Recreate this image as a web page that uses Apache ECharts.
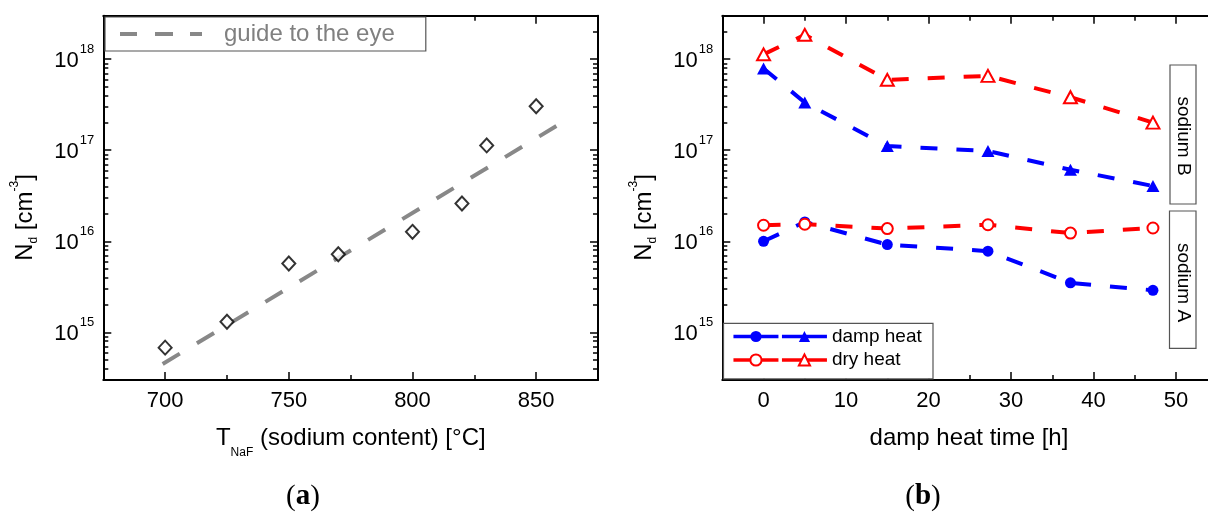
<!DOCTYPE html>
<html>
<head>
<meta charset="utf-8">
<title>Nd vs sodium / damp heat</title>
<script src="https://cdn.jsdelivr.net/npm/echarts@6/dist/echarts.min.js"></script>
<style>
  html, body { margin: 0; padding: 0; background: #fff; }
  #chart { width: 1208px; height: 515px; }
</style>
</head>
<body>
<div id="chart"></div>
<script>
// (a) donor density vs NaF source temperature
var naTemp = [700, 725, 750, 770, 800, 820, 830, 850];
var naNd = [6.8e14, 1.31e15, 5.7e15, 7.2e15, 1.27e16, 2.6e16, 1.13e17, 3.04e17];
var guideTemp = [699, 861];
var guideNd = [4.5e14, 2.05e17];

// (b) donor density vs damp heat time
var heatTime = [0, 5, 15, 27.2, 37.2, 47.2];
var dampA = [1.0e16, 1.63e16, 9.2e15, 7.8e15, 3.5e15, 2.9e15];
var dryA = [1.5e16, 1.54e16, 1.38e16, 1.52e16, 1.23e16, 1.4e16];
var dampB = [7.9e17, 3.34e17, 1.11e17, 9.8e16, 6.1e16, 4.05e16];
var dryB = [1.13e18, 1.85e18, 5.93e17, 6.55e17, 3.82e17, 2.01e17];

// ticks
var tempTicks = [700, 750, 800, 850];
var tempMinor = [725, 775, 825];
var timeTicks = [0, 10, 20, 30, 40, 50];
var timeMinor = [5, 15, 25, 35, 45];
var ndTicks = [1e15, 1e16, 1e17, 1e18];
var ndMin = 3e14, ndMax = 3e18;

var ndMinor = [];
for (var e = 14; e <= 18; e++) {
    for (var k = 2; k <= 9; k++) {
        var v = k * Math.pow(10, e);
        if (v > ndMin && v < ndMax) ndMinor.push(v);
    }
}

var FONT = 'Liberation Sans, Arial, Helvetica, sans-serif';
var BLUE = '#0000ff', RED = '#ff0000', GREY = '#888888';

function pairs(xs, ys) {
    return xs.map(function (x, i) { return [x, ys[i]]; });
}

function tick(len, values) {
    return { show: true, inside: true, length: len, customValues: values, lineStyle: { color: '#000', width: 1.5 } };
}

// 4 x axes per grid: bottom (labels), bottom minor, top, top minor
function xAxes(grid, min, max, major, minor) {
    var line = { show: true, onZero: false, lineStyle: { color: '#000', width: 2 } };
    var noLine = { show: false, onZero: false };
    var base = { gridIndex: grid, type: 'value', min: min, max: max, splitLine: { show: false } };
    return [
        Object.assign({}, base, { position: 'bottom', axisLine: line, axisTick: tick(8, major),
            axisLabel: { customValues: major, margin: 10, fontSize: 22, color: '#000', fontFamily: FONT } }),
        Object.assign({}, base, { position: 'bottom', axisLine: noLine, axisTick: tick(5, minor), axisLabel: { show: false } }),
        Object.assign({}, base, { position: 'top', axisLine: line, axisTick: tick(8, major), axisLabel: { show: false } }),
        Object.assign({}, base, { position: 'top', axisLine: noLine, axisTick: tick(5, minor), axisLabel: { show: false } })
    ];
}

function yAxes(grid) {
    var line = { show: true, onZero: false, lineStyle: { color: '#000', width: 2 } };
    var noLine = { show: false, onZero: false };
    var base = { gridIndex: grid, type: 'log', logBase: 10, min: ndMin, max: ndMax, splitLine: { show: false } };
    return [
        Object.assign({}, base, { position: 'left', axisLine: line, axisTick: tick(8, ndTicks),
            axisLabel: {
                customValues: ndTicks, margin: 9, color: '#000',
                formatter: function (v) { return '{b|10}{s|' + Math.round(Math.log10(v)) + '}'; },
                rich: {
                    b: { fontSize: 22, fontFamily: FONT, color: '#000', padding: [3, 0, 0, 0] },
                    s: { fontSize: 13, fontFamily: FONT, color: '#000', padding: [0, 0, 20, 1] }
                }
            } }),
        Object.assign({}, base, { position: 'left', axisLine: noLine, axisTick: tick(5, ndMinor), axisLabel: { show: false } }),
        Object.assign({}, base, { position: 'right', axisLine: line, axisTick: tick(8, ndTicks), axisLabel: { show: false } }),
        Object.assign({}, base, { position: 'right', axisLine: noLine, axisTick: tick(5, ndMinor), axisLabel: { show: false } })
    ];
}

var markerSeries = function (name, ys, symbol, size, color) {
    return {
        type: 'line', name: name, xAxisIndex: 4, yAxisIndex: 4,
        data: pairs(heatTime, ys),
        symbol: symbol, symbolSize: size, showAllSymbol: true,
        lineStyle: { color: color, width: 4, type: [17, 19], cap: 'butt' },
        itemStyle: { color: color, borderWidth: 1.5 },
        z: 3
    };
};

var titleRich = {
    m: { fontSize: 24, fontFamily: FONT, color: '#000' },
    sub: { fontSize: 12, fontFamily: FONT, color: '#000', padding: [28, 0, 0, 0] }
};
var yRich = {
    m: { fontSize: 24, fontFamily: FONT, color: '#000' },
    sub: { fontSize: 12, fontFamily: FONT, color: '#000', padding: [18, 0, 0, 0] },
    sup: { fontSize: 12, fontFamily: FONT, color: '#000', padding: [0, 0, 20, 0] }
};
var panelRich = {
    p: { fontSize: 29, fontFamily: 'Liberation Serif, Times New Roman, serif', color: '#000' },
    b: { fontSize: 29, fontFamily: 'Liberation Serif, Times New Roman, serif', fontWeight: 'bold', color: '#000' }
};

function label(x, y, text, rich, rot) {
    return { type: 'text', x: x, y: y, rotation: rot || 0, z: 30,
        style: { text: text, rich: rich, align: 'center', verticalAlign: 'middle', fill: '#000' } };
}

function sodiumBox(x, y, w, h, text, cy) {
    return [
        { type: 'rect', z: 10, shape: { x: x, y: y, width: w, height: h },
          style: { fill: '#fff', stroke: '#555', lineWidth: 1.2 } },
        { type: 'text', z: 11, x: x + w / 2, y: cy, rotation: -Math.PI / 2,
          style: { text: text, align: 'center', verticalAlign: 'middle', fontSize: 19, fontFamily: FONT, fill: '#000' } }
    ];
}

var chart = echarts.init(document.getElementById('chart'), null, { renderer: 'canvas' });

chart.setOption({
    animation: false,
    backgroundColor: '#fff',
    grid: [
        { left: 103.3, top: 15.7, width: 494.7, height: 364.3, outerBoundsMode: 'none' },
        { left: 722.3, top: 15.7, width: 495, height: 364.3, outerBoundsMode: 'none' }
    ],
    xAxis: xAxes(0, 675, 875, tempTicks, tempMinor).concat(xAxes(1, -5, 55, timeTicks, timeMinor)),
    yAxis: yAxes(0).concat(yAxes(1)),
    legend: [
        {
            data: [{ name: 'guide to the eye', icon: 'path://M0,0H17V4H0Z M35,0H53V4H35Z M70,0H82V4H70Z' }],
            left: 105, top: 17, itemWidth: 82, itemHeight: 4,
            padding: [5, 31, 5, 15],
            backgroundColor: '#fff', borderColor: '#555', borderWidth: 1.2,
            selectedMode: false, z: 20,
            itemStyle: { color: GREY },
            textStyle: { fontSize: 24, color: '#808080', fontFamily: FONT, padding: [0, 0, 0, 17] }
        },
        {
            data: ['damp heat A', 'damp heat B'],
            left: 731.7, top: 327, itemWidth: 45, itemHeight: 14, itemGap: 0, padding: 0,
            selectedMode: false, z: 20,
            formatter: function (n) { return n === 'damp heat B' ? 'damp heat' : ''; },
            lineStyle: { width: 3.5, type: 'solid' },
            textStyle: { fontSize: 19, color: '#000', fontFamily: FONT }
        },
        {
            data: ['dry heat A', 'dry heat B'],
            left: 731.7, top: 350.5, itemWidth: 45, itemHeight: 14, itemGap: 0, padding: 0,
            selectedMode: false, z: 20,
            formatter: function (n) { return n === 'dry heat B' ? 'dry heat' : ''; },
            lineStyle: { width: 3.5, type: 'solid' },
            textStyle: { fontSize: 19, color: '#000', fontFamily: FONT }
        }
    ],
    graphic: [
        label(25, 217.5, '{m|N}{sub|d}{m| [cm}{sup|-3}{m|]}', yRich, Math.PI / 2),
        label(644, 217.5, '{m|N}{sub|d}{m| [cm}{sup|-3}{m|]}', yRich, Math.PI / 2),
        label(350.8, 438.5, '{m|T}{sub|NaF}{m| (sodium content) [°C]}', titleRich),
        label(969, 438.5, '{m|damp heat time [h]}', titleRich),
        label(303, 497, '{p|(}{b|a}{p|)}', panelRich),
        label(923, 497, '{p|(}{b|b}{p|)}', panelRich),
        { type: 'rect', z: 10, shape: { x: 723.5, y: 323.3, width: 209.5, height: 55.5 },
          style: { fill: '#fff', stroke: '#555', lineWidth: 1.2 } }
    ].concat(sodiumBox(1170, 65, 26, 139, 'sodium B', 136))
     .concat(sodiumBox(1169.5, 211, 26.5, 137.3, 'sodium A', 282.5)),
    series: [
        {
            type: 'line', name: 'guide to the eye', xAxisIndex: 0, yAxisIndex: 0,
            data: pairs(guideTemp, guideNd), symbol: 'none',
            lineStyle: { color: GREY, width: 4, type: [20, 20], cap: 'butt' },
            itemStyle: { color: GREY }, z: 2
        },
        {
            type: 'scatter', name: 'samples', xAxisIndex: 0, yAxisIndex: 0,
            data: pairs(naTemp, naNd), symbol: 'emptyDiamond', symbolSize: [13, 14],
            itemStyle: { color: '#000', borderWidth: 1.5 }, z: 3
        },
        markerSeries('damp heat A', dampA, 'circle', 11, BLUE),
        markerSeries('damp heat B', dampB, 'triangle', [13, 12], BLUE),
        markerSeries('dry heat A', dryA, 'emptyCircle', 11, RED),
        markerSeries('dry heat B', dryB, 'emptyTriangle', [13, 12], RED)
    ]
});
</script>
</body>
</html>
